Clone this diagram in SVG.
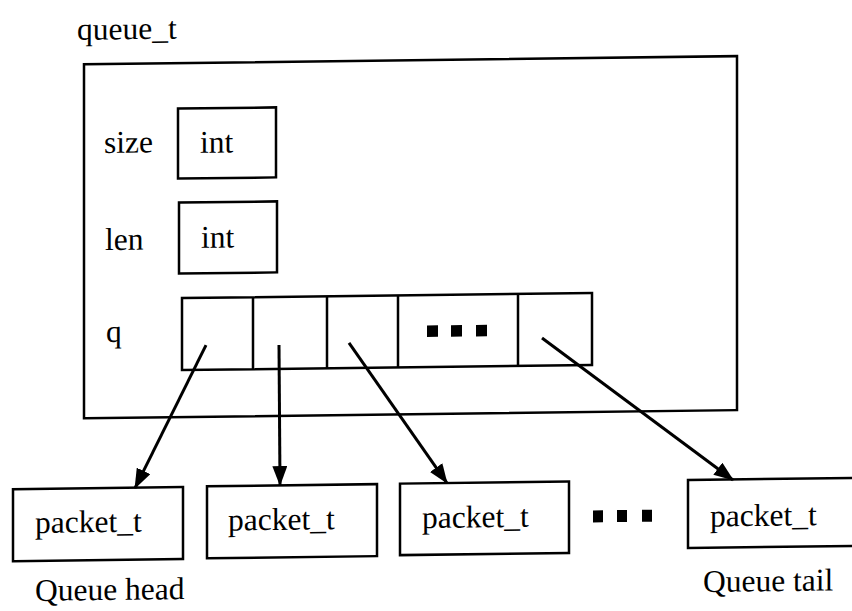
<svg xmlns="http://www.w3.org/2000/svg" width="852" height="611" viewBox="0 0 852 611">
<style>
.box{fill:#fff;stroke:#000;stroke-width:2.5}
.cell{fill:none;stroke:#000;stroke-width:2.5}
.t{font-family:'Liberation Serif','Times New Roman',Times,'DejaVu Serif',serif;font-size:31.5px;fill:#000}
.arr{stroke:#000;stroke-width:3;fill:none;marker-end:url(#ah)}
.dot{fill:#000}
</style>
<defs>
<marker id="ah" markerUnits="userSpaceOnUse" markerWidth="22" markerHeight="16" refX="19" refY="7.5" orient="auto">
<path d="M0,0 L20,7.5 L0,15 z" fill="#000"/>
</marker>
</defs>
<rect width="852" height="611" fill="#fff"/>
<g transform="translate(0 5.325) skewY(-0.716)" font-family="Liberation Serif, Times New Roman, Times, DejaVu Serif, serif">
<g id="queue_t">
<text class="t" x="77" y="35.5">queue_t</text>
<rect class="box" x="84" y="60" width="653" height="354"/>
</g>
<g id="field-size">
<text class="t" x="104" y="149">size</text>
<rect class="box" x="178" y="105.5" width="98" height="70"/>
<text class="t" x="200" y="150">int</text>
</g>
<g id="field-len">
<text class="t" x="105" y="246">len</text>
<rect class="box" x="179" y="199.5" width="98" height="71"/>
<text class="t" x="201" y="245">int</text>
</g>
<g id="field-q">
<text class="t" x="106" y="338">q</text>
<rect class="box" x="182" y="295" width="410" height="72"/>
<path class="cell" d="M253,295V367M327,295V367M398,295V367M518,295V367"/>
<rect class="dot" x="427" y="325.5" width="11" height="11.5"/>
<rect class="dot" x="451" y="325.5" width="11" height="11.5"/>
<rect class="dot" x="476" y="325.5" width="11" height="11.5"/>
</g>
<g id="packet-1">
<rect class="box" x="13" y="484" width="170" height="72"/>
<text class="t" x="35" y="528">packet_t</text>
</g>
<g id="packet-2">
<rect class="box" x="207" y="483.5" width="170" height="72"/>
<text class="t" x="228" y="528">packet_t</text>
</g>
<g id="packet-3">
<rect class="box" x="400" y="483.3" width="169" height="71.5"/>
<text class="t" x="422" y="528">packet_t</text>
</g>
<g id="packet-dots">
<rect class="dot" x="593" y="512.5" width="10" height="12"/>
<rect class="dot" x="617" y="512.5" width="10" height="12"/>
<rect class="dot" x="642" y="512.5" width="10" height="12"/>
</g>
<g id="packet-4">
<rect class="box" x="688" y="483.3" width="175" height="68"/>
<text class="t" x="710" y="530">packet_t</text>
</g>
<g id="labels">
<text class="t" x="35" y="596">Queue head</text>
<text class="t" x="703" y="595.5">Queue tail</text>
</g>
<g id="connectors">
<line class="arr" x1="206" y1="342.3" x2="135" y2="484.4"/>
<line class="arr" x1="279" y1="343.2" x2="280" y2="483.2"/>
<line class="arr" x1="349" y1="342" x2="447" y2="483.3"/>
<line class="arr" x1="542" y1="339.5" x2="733" y2="483.8"/>
</g>
</g>
</svg>
